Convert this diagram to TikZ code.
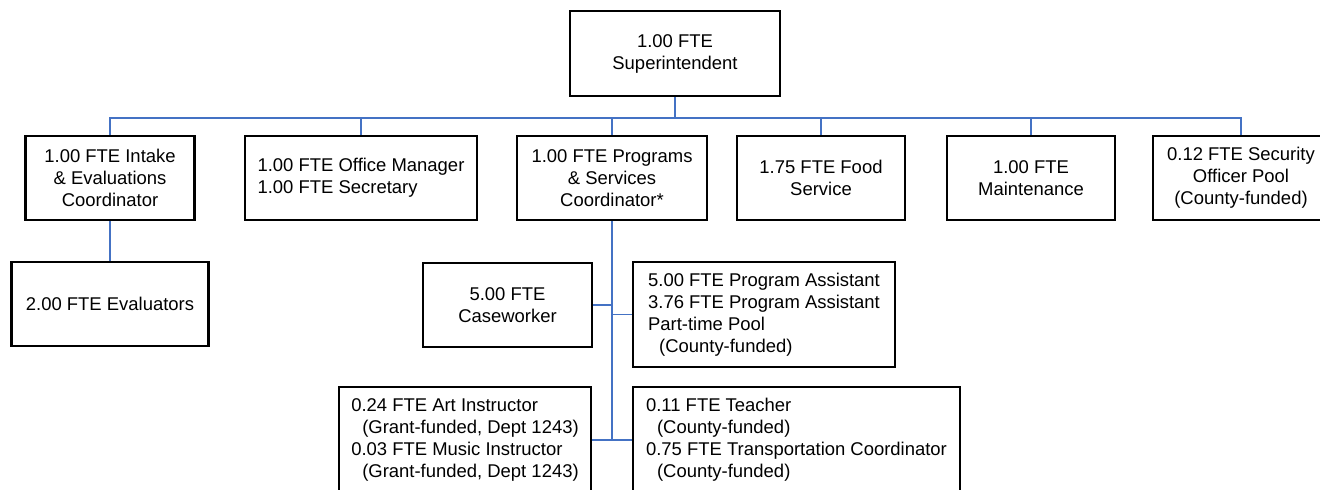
\documentclass[tikz,border=0pt]{standalone}
\usepackage{fontspec}
\setmainfont{Liberation Sans}
\usepackage{tikz}
\usetikzlibrary{calc}
\definecolor{linkblue}{RGB}{68,114,196}
\tikzset{
  link/.style={draw=linkblue, line width=1pt},
  orgbox/.style={
    draw=black,
    line width=1.4pt,
    fill=white,
    align=center,
    inner xsep=0.24cm,
    inner ysep=0pt,
    font=\fontsize{10.5pt}{12.5pt}\selectfont
  },
  leftbox/.style={orgbox, align=left},
}
\newcommand{\ind}{\hspace*{0.22cm}}

\begin{document}
\begin{tikzpicture}
  \clip (0,0) rectangle (26.4,-9.78);
  \fill[white] (0,0) rectangle (26.4,-9.78);

  % top
  \node[orgbox,minimum width=4.2cm,minimum height=1.7cm] (sup) at (13.5,-1.07) {1.00 FTE\\Superintendent};

  % second row
  \node[orgbox,minimum width=3.38cm,minimum height=1.68cm] (intake) at (2.2,-3.56) {1.00 FTE Intake\\\& Evaluations\\Coordinator};
  \node[leftbox,minimum width=4.64cm,minimum height=1.68cm] (office) at (7.22,-3.56) {1.00 FTE Office Manager\\1.00 FTE Secretary};
  \node[orgbox,minimum width=3.8cm,minimum height=1.68cm] (programs) at (12.24,-3.56) {1.00 FTE Programs\\\& Services\\Coordinator*};
  \node[orgbox,minimum width=3.36cm,minimum height=1.68cm] (food) at (16.42,-3.56) {1.75 FTE Food\\Service};
  \node[orgbox,minimum width=3.36cm,minimum height=1.68cm] (maint) at (20.62,-3.56) {1.00 FTE\\Maintenance};
  \node[orgbox,minimum width=3.52cm,minimum height=1.68cm] (security) at (24.82,-3.56) {0.12 FTE Security\\Officer Pool\\(County-funded)};

  % third row
  \node[orgbox,minimum width=3.94cm,minimum height=1.68cm] (evals) at (2.2,-6.08) {2.00 FTE Evaluators};
  \node[orgbox,minimum width=3.38cm,minimum height=1.68cm] (casework) at (10.15,-6.10) {5.00 FTE\\Caseworker};
  \node[leftbox,minimum width=5.24cm,minimum height=2.1cm] (assist) at (15.28,-6.29) {5.00 FTE Program Assistant\\3.76 FTE Program Assistant\\Part-time Pool\\\ind(County-funded)};

  % fourth row
  \node[leftbox,minimum width=5.04cm,minimum height=2.12cm] (arts) at (9.30,-8.80) {0.24 FTE Art Instructor\\\ind(Grant-funded, Dept 1243)\\0.03 FTE Music Instructor\\\ind(Grant-funded, Dept 1243)};
  \node[leftbox,minimum width=6.54cm,minimum height=2.12cm] (teacher) at (15.93,-8.80) {0.11 FTE Teacher\\\ind(County-funded)\\0.75 FTE Transportation Coordinator\\\ind(County-funded)};

  % connectors
  \draw[link] (sup.south) -- ++(0,-0.41) coordinate (hub);
  \draw[link] (intake.north) |- (hub) -| (security.north);
  \foreach \n in {office,programs,food,maint}
    \draw[link] (\n.north) -- (\n.north |- hub);
  \draw[link] (intake.south) -- (evals.north);
  \draw[link] (programs.south) -- (programs.south |- arts.east);
  \draw[link] (casework.east) -- (casework.east -| programs.south);
  \draw[link] (assist.west) -- (assist.west -| programs.south);
  \draw[link] (arts.east) -- (teacher.west);
\end{tikzpicture}
\end{document}
